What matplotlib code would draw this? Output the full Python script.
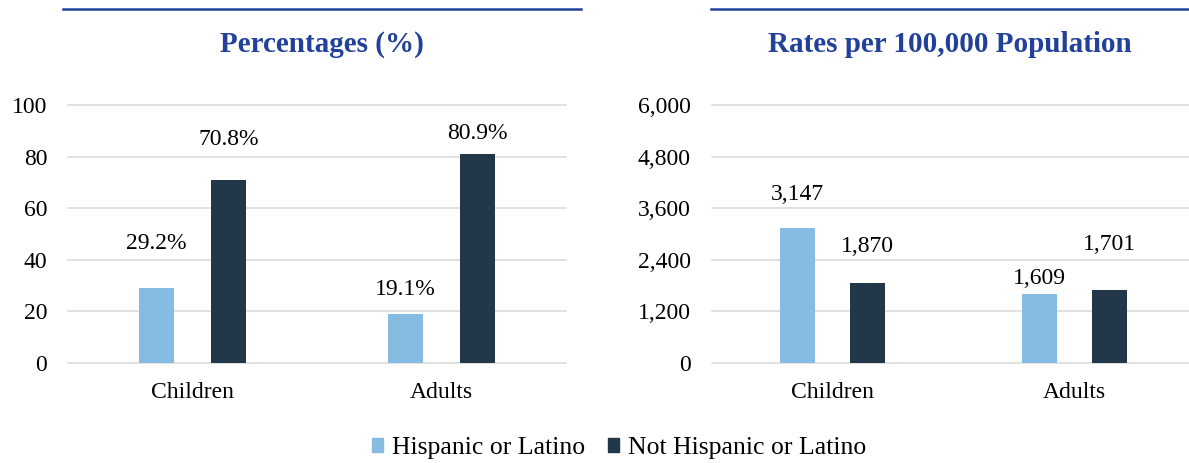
import numpy as np
import matplotlib.pyplot as plt
from matplotlib.patches import Patch
from matplotlib.lines import Line2D
from matplotlib.ticker import FuncFormatter

plt.rcParams['font.family'] = ['Liberation Serif', 'DejaVu Serif']

# ── Data ────────────────────────────────────────────
groups = ['Children', 'Adults']
series = ['Hispanic or Latino', 'Not Hispanic or Latino']

pct_hisp = [29.2, 19.1]
pct_not = [70.8, 80.9]

rate_hisp = [3147, 1609]
rate_not = [1870, 1701]

# label heights (data units), placed by hand in the original
pct_lab_hisp = [46.4, 28.4]
pct_lab_not = [86.7, 89.0]
rate_lab_hisp = [3925, 1974]
rate_lab_not = [2710, 2764]

# ── Style ───────────────────────────────────────────
C_HISP = '#86BBE2'
C_NOT = '#22384A'
BLUE = '#22419A'
GRID = '#D9D9D9'
BW = 0.143
OFF = 0.145

W, H = 1189, 463
fig = plt.figure(figsize=(W / 100, H / 100), dpi=100)


def px_axes(x0, x1, y_top, y_bot):
    return fig.add_axes([x0 / W, 1 - y_bot / H, (x1 - x0) / W, (y_bot - y_top) / H])


def draw_panel(ax, hisp, not_h, lab_h, lab_n, fmt, ymax, step):
    x = np.arange(len(groups))
    ax.bar(x - OFF, hisp, width=BW, color=C_HISP, zorder=3)
    ax.bar(x + OFF, not_h, width=BW, color=C_NOT, zorder=3)
    for xi, v, ly in zip(x - OFF, hisp, lab_h):
        ax.text(xi, ly, fmt(v), ha='center', va='center', fontsize=17)
    for xi, v, ly in zip(x + OFF, not_h, lab_n):
        ax.text(xi, ly, fmt(v), ha='center', va='center', fontsize=17)

    ticks = np.arange(0, ymax + step, step)
    for t in ticks:
        ax.axhline(t, color=GRID, linewidth=1.1, zorder=1, clip_on=False)
    ax.set_xlim(-0.5, 1.5)
    ax.set_ylim(0, ymax)
    ax.set_yticks(ticks)
    ax.set_xticks(x, groups)
    for s in ax.spines.values():
        s.set_visible(False)
    ax.tick_params(axis='y', length=0, labelsize=17, pad=15)
    ax.tick_params(axis='x', length=0, labelsize=17, pad=14)


ax1 = px_axes(68, 566, 105, 363)
draw_panel(ax1, pct_hisp, pct_not, pct_lab_hisp, pct_lab_not,
           lambda v: f'{v:.1f}%', 100, 20)

ax2 = px_axes(711.5, 1195.5, 105, 363)
draw_panel(ax2, rate_hisp, rate_not, rate_lab_hisp, rate_lab_not,
           lambda v: f'{v:,.0f}', 6000, 1200)
ax2.yaxis.set_major_formatter(FuncFormatter(lambda v, p: f'{v:,.0f}'))

# ── Panel headers ───────────────────────────────────
fig.add_artist(Line2D([63 / W, 581 / W], [1 - 9 / H] * 2, color=BLUE, lw=1.8))
fig.add_artist(Line2D([711 / W, 1.0], [1 - 9 / H] * 2, color=BLUE, lw=1.8))
fig.text(322 / W, 1 - 45 / H, 'Percentages (%)', ha='center', va='center',
         fontsize=21, fontweight='bold', color=BLUE)
fig.text(950 / W, 1 - 45 / H, 'Rates per 100,000 Population', ha='center', va='center',
         fontsize=21, fontweight='bold', color=BLUE)

# ── Legend ──────────────────────────────────────────
handles = [Patch(color=C_HISP), Patch(color=C_NOT)]
fig.legend(handles, series, loc='center', bbox_to_anchor=(619 / W, 1 - 448 / H),
           ncol=2, frameon=False, fontsize=18.5, handlelength=0.43, handleheight=0.43,
           handletextpad=0.35, columnspacing=0.9, borderaxespad=0)

fig.savefig('out.png', dpi=100)
